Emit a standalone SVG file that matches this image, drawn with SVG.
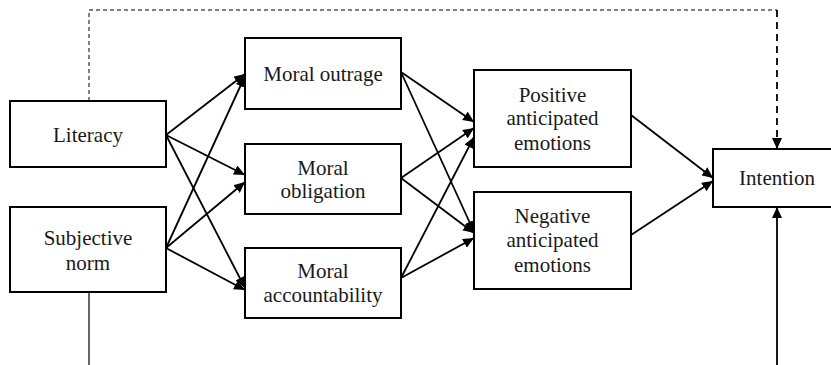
<svg xmlns="http://www.w3.org/2000/svg" width="831" height="365" viewBox="0 0 831 365">
<style>
.box{fill:#fff;stroke:#000;stroke-width:2}
.t{font-family:"Liberation Serif","Times New Roman",serif;font-size:21px;fill:#1a1a1a;text-anchor:middle}
.c{fill:none;stroke:#000;stroke-width:1.8}
</style>
<defs>
<marker id="ah" markerUnits="userSpaceOnUse" markerWidth="12" markerHeight="10" refX="11" refY="5" orient="auto">
<path d="M0,0 L11,5 L0,10 Z" fill="#000"/>
</marker>
</defs>
<rect width="831" height="365" fill="#fff"/>
<g id="connectors">
<path d="M89,101 V10 H777" fill="none" stroke="#000" stroke-width="1" stroke-dasharray="4,3"/>
<path d="M777,10 V149" class="c" stroke-dasharray="7,5" marker-end="url(#ah)"/>
<path d="M89,292 V365" fill="none" stroke="#000" stroke-width="1.2"/>
<path d="M777,365 V207" class="c" marker-end="url(#ah)"/>
<line x1="166" y1="135" x2="245" y2="74" class="c" marker-end="url(#ah)"/>
<line x1="166" y1="135" x2="245" y2="175" class="c" marker-end="url(#ah)"/>
<line x1="166" y1="135" x2="245" y2="288" class="c" marker-end="url(#ah)"/>
<line x1="166" y1="248" x2="245" y2="76" class="c" marker-end="url(#ah)"/>
<line x1="166" y1="248" x2="245" y2="182" class="c" marker-end="url(#ah)"/>
<line x1="166" y1="248" x2="245" y2="290" class="c" marker-end="url(#ah)"/>
<line x1="401" y1="72" x2="474" y2="122" class="c" marker-end="url(#ah)"/>
<line x1="401" y1="72" x2="474" y2="232" class="c" marker-end="url(#ah)"/>
<line x1="401" y1="178" x2="474" y2="128" class="c" marker-end="url(#ah)"/>
<line x1="401" y1="178" x2="474" y2="233" class="c" marker-end="url(#ah)"/>
<line x1="401" y1="278" x2="474" y2="137" class="c" marker-end="url(#ah)"/>
<line x1="401" y1="278" x2="474" y2="238" class="c" marker-end="url(#ah)"/>
<line x1="631" y1="115" x2="713" y2="178" class="c" marker-end="url(#ah)"/>
<line x1="631" y1="235" x2="713" y2="181" class="c" marker-end="url(#ah)"/>
</g>
<g id="literacy"><rect x="10" y="101" width="156" height="66" class="box"/><text x="88" y="142" class="t">Literacy</text></g>
<g id="subjective-norm"><rect x="10" y="207" width="156" height="85" class="box"/><text x="88" y="245" class="t">Subjective</text><text x="88" y="270" class="t">norm</text></g>
<g id="moral-outrage"><rect x="245" y="38" width="156" height="71" class="box"/><text x="323" y="81" class="t">Moral outrage</text></g>
<g id="moral-obligation"><rect x="245" y="144" width="156" height="70" class="box"/><text x="323" y="175" class="t">Moral</text><text x="323" y="198" class="t">obligation</text></g>
<g id="moral-accountability"><rect x="245" y="248" width="156" height="70" class="box"/><text x="323" y="278" class="t">Moral</text><text x="323" y="302" class="t">accountability</text></g>
<g id="positive"><rect x="474" y="70" width="157" height="97" class="box"/><text x="552.5" y="102" class="t">Positive</text><text x="552.5" y="125" class="t">anticipated</text><text x="552.5" y="150" class="t">emotions</text></g>
<g id="negative"><rect x="474" y="192" width="157" height="97" class="box"/><text x="552.5" y="223" class="t">Negative</text><text x="552.5" y="247" class="t">anticipated</text><text x="552.5" y="272" class="t">emotions</text></g>
<g id="intention"><rect x="713" y="149" width="128" height="58" class="box"/><text x="777" y="185" class="t">Intention</text></g>
</svg>
